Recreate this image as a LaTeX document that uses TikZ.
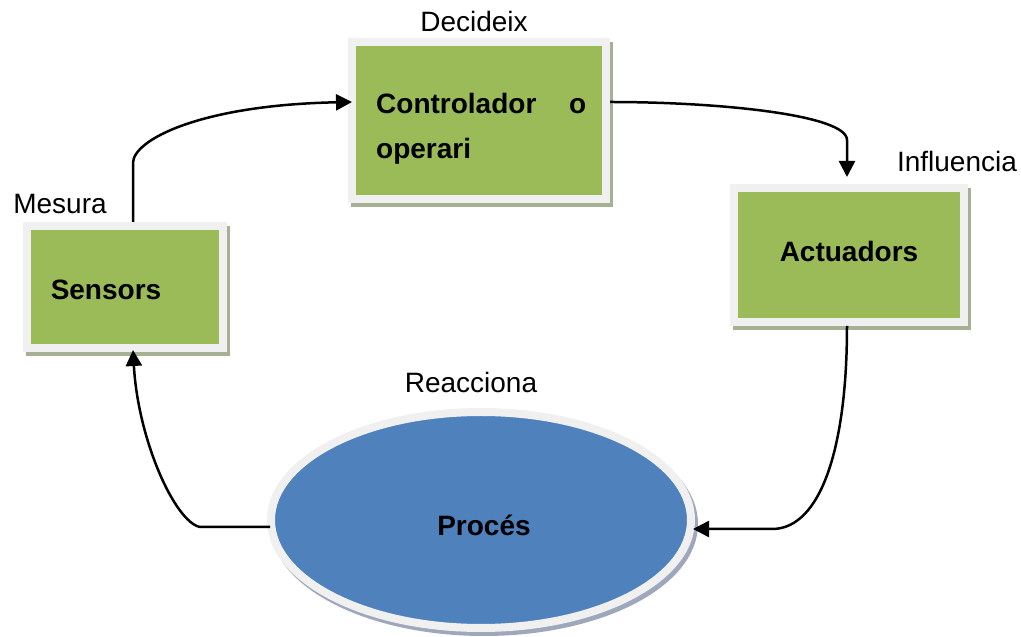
\documentclass[tikz,border=0pt]{standalone}
\usepackage{fontspec}
\setmainfont{Liberation Sans}
\usetikzlibrary{arrows.meta,shapes.geometric}
\definecolor{boxgreen}{HTML}{9BBB59}
\definecolor{procblue}{HTML}{4F81BD}
\definecolor{framegray}{HTML}{F0F0F0}
\definecolor{greenshadow}{HTML}{A6B092}
\definecolor{blueshadow}{HTML}{9EA7BC}
\tikzset{
  x=1pt,y=1pt,
  greenbox/.style={rectangle, draw=framegray, line width=8pt, fill=boxgreen, inner sep=0pt,
    preaction={draw=greenshadow, fill=greenshadow, line width=8pt, transform canvas={xshift=3pt,yshift=-4pt}}},
  procshape/.style={ellipse, draw=framegray, line width=8pt, fill=procblue, inner sep=0pt,
    minimum width=420pt, minimum height=216pt,
    preaction={draw=blueshadow, fill=blueshadow, line width=8pt, transform canvas={xshift=3pt,yshift=-4pt}}},
  boldtext/.style={font=\fontsize{28}{45}\selectfont\bfseries, inner sep=0pt},
  plaintext/.style={font=\fontsize{28}{34}\selectfont, inner sep=0pt, anchor=base},
  conn/.style={line width=2.5pt, -{Triangle[length=16pt,width=16pt]}},
}
\begin{document}
\begin{tikzpicture}
\useasboundingbox (0,0) rectangle (1021,637);
% boxes
\node[greenbox, minimum width=254pt, minimum height=157pt] (ctrl) at (479,516.5) {};
\node[greenbox, minimum width=196pt, minimum height=122pt] (sens) at (125,350) {};
\node[greenbox, minimum width=230pt, minimum height=134pt] (act) at (849,382) {};
\node[procshape] (proc) at (481,117) {};
% texts inside boxes
\node[boldtext, anchor=north west, align=left, text width=210pt] (ctrltext) at (376,544)
  {\makebox[210pt][l]{Controlador\hfill o}\\operari};
\node[boldtext, anchor=base] (senstext) at (106,337) {Sensors};
\node[boldtext, anchor=base] (acttext) at (849,375) {Actuadors};
\node[boldtext, anchor=base] (proctext) at (484,101) {Procés};
% labels
\node[plaintext] (ldec) at (474,605) {Decideix};
\node[plaintext] (lmes) at (60,423) {Mesura};
\node[plaintext] (linf) at (957,465) {Influencia};
\node[plaintext] (lrea) at (471,244) {Reacciona};
% connectors
\draw[conn] ([xshift=8pt]sens.north) -- (133,474) .. controls (133,497) and (200,532) .. ([shift={(4pt,18.5pt)}]ctrl.west);
\draw[conn] ([yshift=18.5pt]ctrl.east) .. controls (720,535) and (847,522) .. (847,497) -- ([shift={(-2pt,7pt)}]act.north);
\draw[conn] ([xshift=-2pt]act.south) .. controls (847,187) and (820,109) .. (773,108) -- ([shift={(-2pt,-9pt)}]proc.east);
\draw[conn] ([shift={(3pt,-7pt)}]proc.west) -- (200,110) .. controls (175,115) and (138,197) .. ([shift={(8pt,2pt)}]sens.south);
\end{tikzpicture}
\end{document}
